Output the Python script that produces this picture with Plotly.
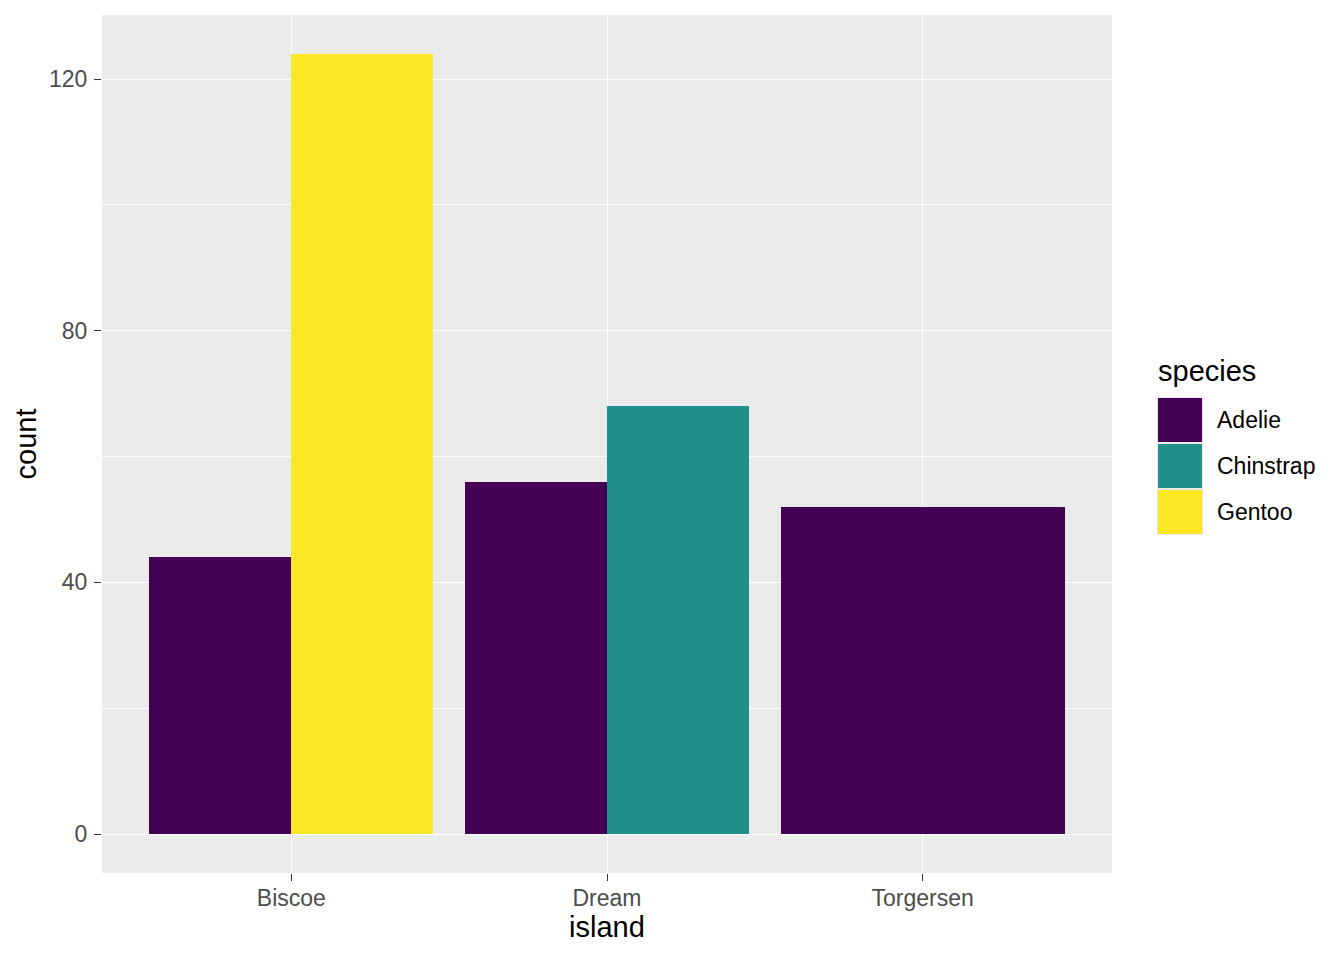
import plotly.graph_objects as go

islands = ["Biscoe", "Dream", "Torgersen"]
species = ["Adelie", "Chinstrap", "Gentoo"]
colors = {"Adelie": "#440154", "Chinstrap": "#21908C", "Gentoo": "#FDE725"}
# counts per island per species (0 = absent)
counts = {
    "Adelie":    [44, 56, 52],
    "Chinstrap": [0, 68, 0],
    "Gentoo":    [124, 0, 0],
}

BAR_W = 0.9
fig = go.Figure()

# dodge computation
for i, isl in enumerate(islands):
    present = [s for s in species if counts[s][i] > 0]
    n = len(present)
    w = BAR_W / n
    for j, s in enumerate(present):
        center = (i + 1) - BAR_W / 2 + w * (j + 0.5)
        fig.add_trace(go.Bar(
            x=[center], y=[counts[s][i]], width=[w],
            marker=dict(color=colors[s], line=dict(width=0)),
            showlegend=False, name=s,
            hovertemplate=f"{isl}<br>{s}: %{{y}}<extra></extra>",
        ))

font_fam = "Liberation Sans, Arial, sans-serif"
TICK_SIZE = 23
TITLE_SIZE = 29

fig.update_layout(
    width=1344, height=960,
    margin=dict(l=94, r=240, t=7, b=95),
    paper_bgcolor="white", plot_bgcolor="#EBEBEB",
    font=dict(family=font_fam, color="#000000"),
    bargap=0,
    xaxis=dict(
        range=[0.4, 3.6],
        tickmode="array", tickvals=[1, 2, 3], ticktext=islands,
        showgrid=True, gridcolor="white", gridwidth=1.3,
        zeroline=False, showline=False,
        ticks="outside", ticklen=7, tickwidth=1.3, tickcolor="#333333",
        tickfont=dict(size=TICK_SIZE, color="#4D4D4D", family=font_fam),
        ticklabelstandoff=-3,
        title=dict(text="island", font=dict(size=TITLE_SIZE, color="#000000"), standoff=7),
        automargin=False,
    ),
    yaxis=dict(
        range=[-6.2, 130.2],
        tickmode="linear", tick0=0, dtick=40,
        showgrid=True, gridcolor="white", gridwidth=1.3,
        minor=dict(dtick=20, tick0=0, showgrid=True, gridcolor="white", gridwidth=0.7, ticks=""),
        zeroline=False, showline=False,
        ticks="outside", ticklen=7, tickwidth=1.3, tickcolor="#333333",
        tickfont=dict(size=TICK_SIZE, color="#4D4D4D", family=font_fam),
        ticklabelstandoff=2,
        title=dict(text="count", font=dict(size=TITLE_SIZE, color="#000000"), standoff=3),
        automargin=False,
    ),
)

# manual legend, ggplot style
KEY = 46
top0 = 396 - 14  # pixel offset below plot top
fig.add_annotation(
    xref="paper", yref="paper", x=1, y=1, xshift=44, yshift=-(370 - 14),
    text="species", showarrow=False, xanchor="left", yanchor="middle",
    font=dict(size=TITLE_SIZE, color="#000000", family=font_fam),
)
for k, s in enumerate(species):
    y_top = -(top0 + k * KEY)
    fig.add_shape(
        type="rect", xref="paper", yref="paper",
        xsizemode="pixel", ysizemode="pixel", xanchor=1, yanchor=1,
        x0=45, x1=45 + KEY, y0=y_top, y1=y_top - KEY,
        fillcolor="#EBEBEB", line=dict(width=0), layer="above",
    )
    fig.add_shape(
        type="rect", xref="paper", yref="paper",
        xsizemode="pixel", ysizemode="pixel", xanchor=1, yanchor=1,
        x0=46, x1=45 + KEY - 1, y0=y_top - 1, y1=y_top - KEY + 1,
        fillcolor=colors[s], line=dict(width=0), layer="above",
    )
    fig.add_annotation(
        xref="paper", yref="paper", x=1, y=1, xshift=103,
        yshift=y_top - KEY / 2,
        text=s, showarrow=False, xanchor="left", yanchor="middle",
        font=dict(size=TICK_SIZE, color="#000000", family=font_fam),
    )

fig.write_html("out.html")
